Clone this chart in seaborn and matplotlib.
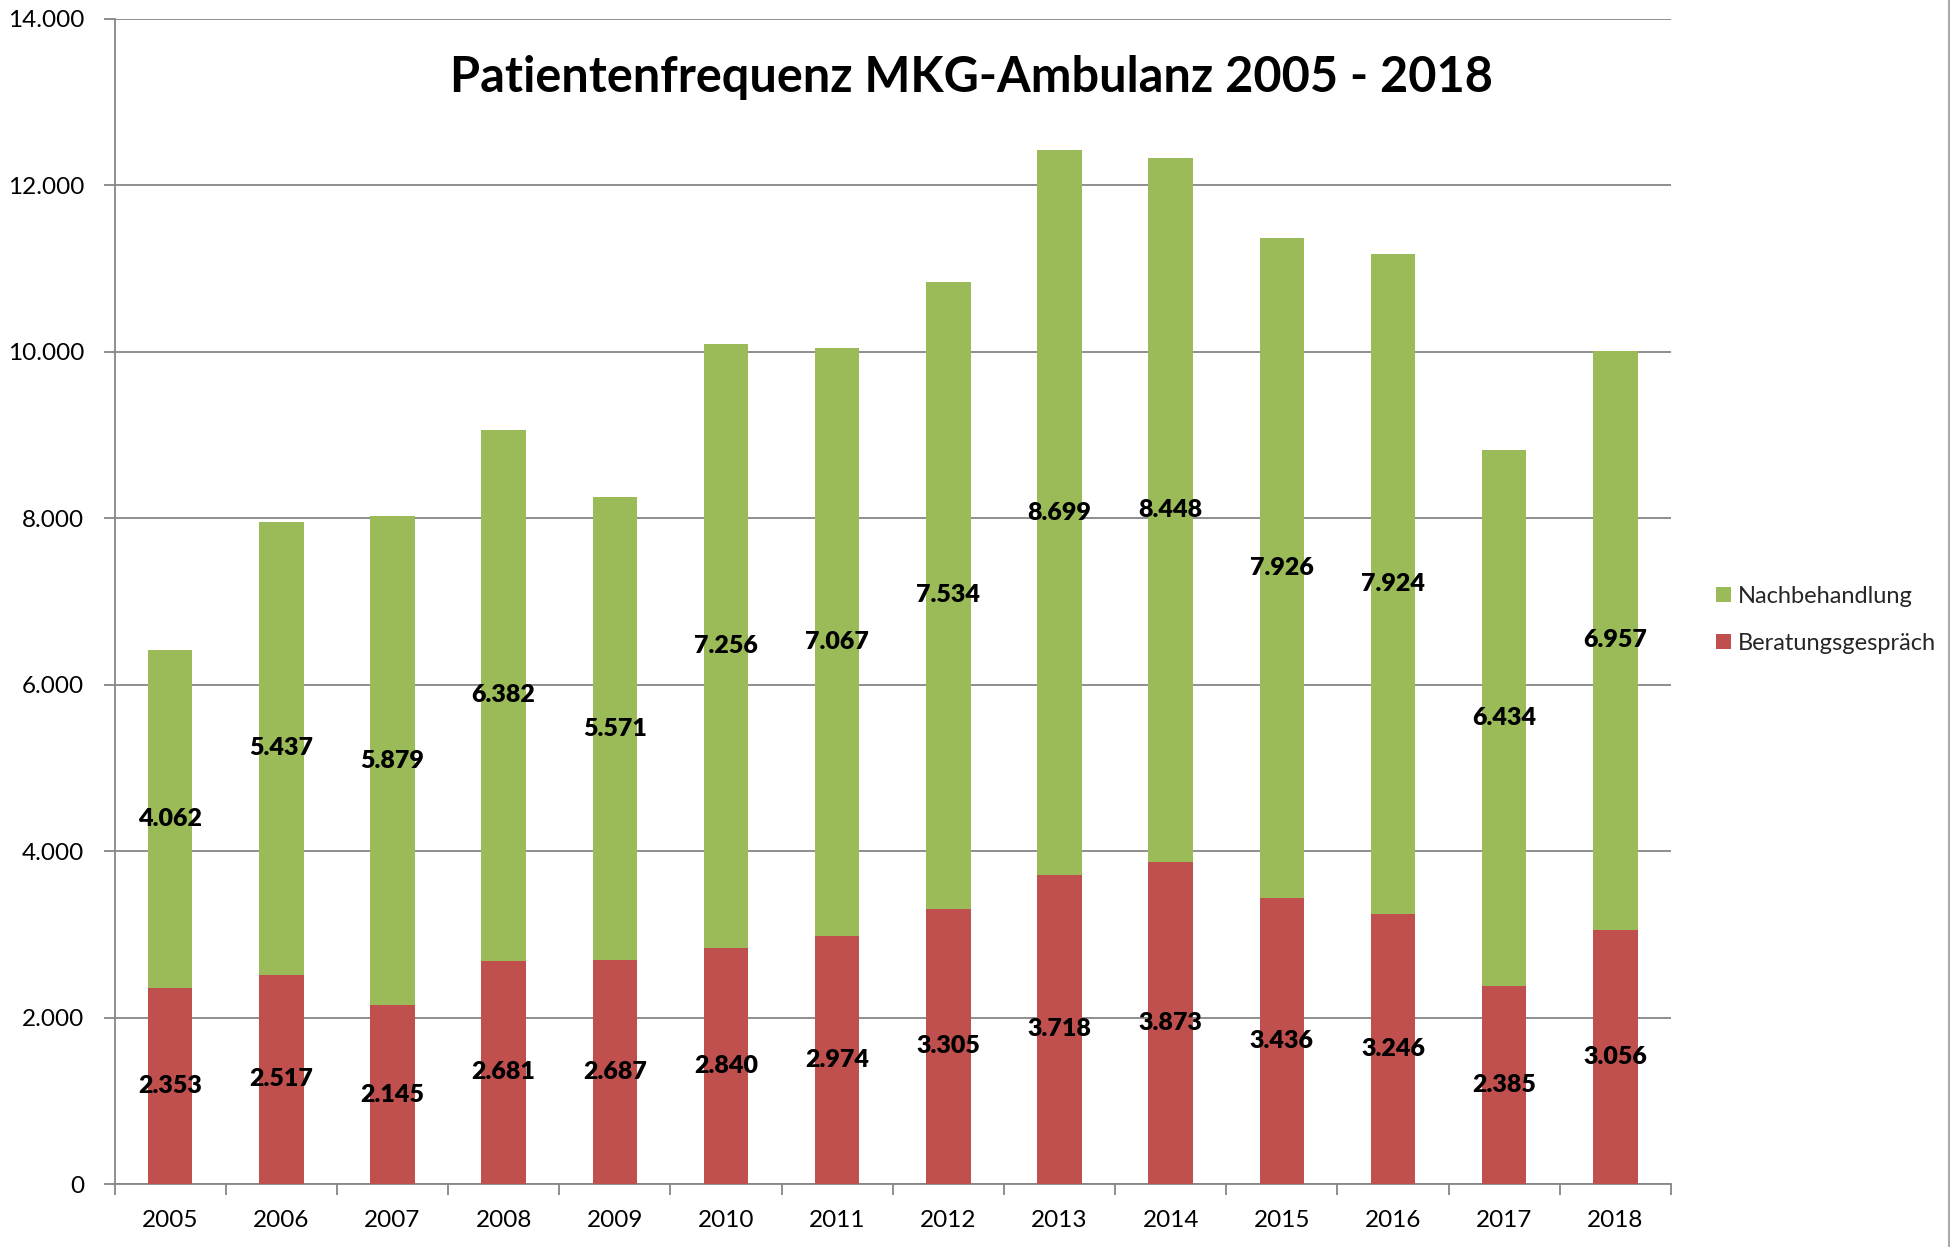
import matplotlib
matplotlib.use("Agg")
import matplotlib.pyplot as plt
import seaborn as sns
import pandas as pd
import numpy as np
from matplotlib.patches import Patch
from matplotlib.lines import Line2D
from matplotlib.ticker import FuncFormatter, MultipleLocator

years = ["2005", "2006", "2007", "2008", "2009", "2010", "2011",
         "2012", "2013", "2014", "2015", "2016", "2017", "2018"]
beratung = [2353, 2517, 2145, 2681, 2687, 2840, 2974, 3305, 3718, 3873, 3436, 3246, 2385, 3056]
nachbehandlung = [4062, 5437, 5879, 6382, 5571, 7256, 7067, 7534, 8699, 8448, 7926, 7924, 6434, 6957]

title = "Patientenfrequenz MKG-Ambulanz 2005 - 2018"
red = "#C0504D"
green = "#9BBB59"
grid_c = "#868686"

sns.set_theme(style="white")
plt.rcParams["font.family"] = ["Lato", "DejaVu Sans"]

df = pd.DataFrame({"Jahr": years, "Beratungsgespräch": beratung, "Nachbehandlung": nachbehandlung})
df["Gesamt"] = df["Beratungsgespräch"] + df["Nachbehandlung"]

fig = plt.figure(figsize=(19.52, 12.47), dpi=100)
ax = fig.add_axes([0.0587, 0.0505, 0.856 - 0.0587, 0.985 - 0.0505])

sns.barplot(data=df, x="Jahr", y="Gesamt", color=green, width=0.4, saturation=1,
            linewidth=0, edgecolor="none", ax=ax, zorder=3)
sns.barplot(data=df, x="Jahr", y="Beratungsgespräch", color=red, width=0.4, saturation=1,
            linewidth=0, edgecolor="none", ax=ax, zorder=3)

ax.set_xlim(-0.5, len(years) - 0.5)
ax.set_ylim(0, 14000)
ax.yaxis.set_major_locator(MultipleLocator(2000))
ax.yaxis.set_major_formatter(FuncFormatter(lambda v, p: f"{int(v):,}".replace(",", ".")))
ax.set_xlabel("")
ax.set_ylabel("")

ax.grid(axis="y", color=grid_c, linewidth=1.3, zorder=0)
ax.set_axisbelow(True)
for s in ["top", "right"]:
    ax.spines[s].set_visible(False)
for s in ["left", "bottom"]:
    ax.spines[s].set_color(grid_c)
    ax.spines[s].set_linewidth(1.3)

ax.tick_params(axis="y", which="major", left=True, length=8, width=1.3, color=grid_c,
               labelsize=17.5, pad=14, labelcolor="black")
ax.tick_params(axis="x", which="major", bottom=False, labelsize=17.5, pad=13, labelcolor="black")
ax.set_xticks(np.arange(-0.5, len(years), 1.0), minor=True)
ax.tick_params(axis="x", which="minor", bottom=True, length=8, width=1.3, color=grid_c)

for i in range(len(years)):
    b = beratung[i]
    n = nachbehandlung[i]
    ax.text(i, b / 2, f"{b:,}".replace(",", "."), ha="center", va="center",
            fontsize=18, fontweight="heavy", color="black", zorder=5)
    ax.text(i, b + n / 2, f"{n:,}".replace(",", "."), ha="center", va="center",
            fontsize=18, fontweight="heavy", color="black", zorder=5)

fig.text(0.4975, 0.938, title, ha="center", va="center", fontsize=35, fontweight="bold", color="black")

handles = [Patch(facecolor=green, edgecolor="none", label="Nachbehandlung"),
           Patch(facecolor=red, edgecolor="none", label="Beratungsgespräch")]
leg = fig.legend(handles=handles, loc="center left", bbox_to_anchor=(0.879, 0.503),
                 frameon=False, fontsize=17, handlelength=0.65, handleheight=0.65,
                 handletextpad=0.3, labelspacing=1.1, borderaxespad=0, borderpad=0)

fig.add_artist(Line2D([0.9985, 0.9985], [0, 1], transform=fig.transFigure, color="#AAAAAA", linewidth=1.5))

fig.savefig("out.png", dpi=100)
